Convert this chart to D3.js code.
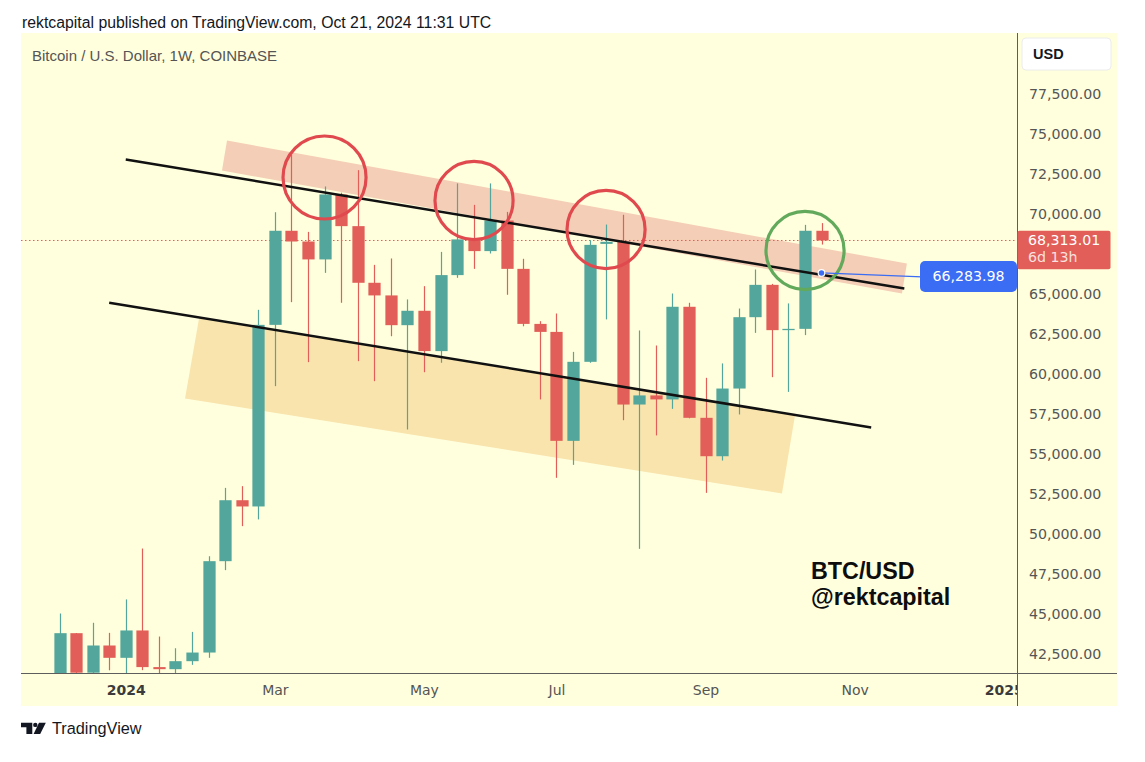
<!DOCTYPE html>
<html>
<head>
<meta charset="utf-8">
<script src="https://cdn.jsdelivr.net/npm/d3@7"></script>
<style>
  body { margin: 0; background: #ffffff; }
  svg { display: block; }
</style>
</head>
<body>
<svg id="chart" width="1145" height="762"></svg>
<script>
// ---------------- DATA ----------------
const weeks = [
  "2023-12-04","2023-12-11","2023-12-18","2023-12-25","2024-01-01","2024-01-08","2024-01-15","2024-01-22",
  "2024-01-29","2024-02-05","2024-02-12","2024-02-19","2024-02-26","2024-03-04","2024-03-11","2024-03-18",
  "2024-03-25","2024-04-01","2024-04-08","2024-04-15","2024-04-22","2024-04-29","2024-05-06","2024-05-13",
  "2024-05-20","2024-05-27","2024-06-03","2024-06-10","2024-06-17","2024-06-24","2024-07-01","2024-07-08",
  "2024-07-15","2024-07-22","2024-07-29","2024-08-05","2024-08-12","2024-08-19","2024-08-26","2024-09-02",
  "2024-09-09","2024-09-16","2024-09-23","2024-09-30","2024-10-07","2024-10-14","2024-10-21"
];
const opens = [
  39970, 43770, 41300, 43000, 42230, 43940, 41650, 41520,
  42020, 42560, 48270, 52080, 51690, 63040, 68920, 68250,
  67130, 71190, 69210, 65670, 64880, 63020, 63920, 61400,
  66150, 68380, 67650, 69560, 66540, 63100, 62600, 55790,
  60730, 68100, 68230, 58060, 58630, 58380, 64170, 57230,
  54830, 59060, 63520, 65540, 62710, 62790, 68920
];
const highs = [
  45000, 43780, 44420, 43790, 45880, 49060, 43560, 42830,
  43850, 48580, 52850, 52960, 63980, 70080, 73690, 68850,
  71690, 71300, 72710, 66790, 67190, 64630, 65460, 67600,
  71880, 70540, 71880, 70100, 67170, 63270, 63750, 61350,
  68330, 69310, 69920, 62690, 61750, 65000, 64420, 59730,
  60630, 64060, 66500, 65600, 64380, 69290, 69400
];
const lows = [
  39500, 40200, 40550, 41450, 40750, 41460, 40500, 38500,
  41790, 42230, 47710, 50460, 50880, 59210, 64460, 60710,
  66290, 64420, 60770, 59520, 62330, 56500, 60080, 60670,
  65980, 66540, 67500, 64920, 62950, 58380, 53480, 54290,
  60670, 63380, 57080, 49040, 56130, 57790, 57200, 52540,
  54560, 57440, 62540, 59770, 58850, 62400, 68060
];
const closes = [
  43770, 41300, 43000, 42230, 43940, 41650, 41520, 42020,
  42560, 48270, 52080, 51690, 63040, 68920, 68250, 67130,
  71190, 69210, 65670, 64880, 63020, 63920, 61400, 66150,
  68380, 67650, 69560, 66540, 63100, 62600, 55790, 60730,
  68040, 68230, 58060, 58630, 58380, 64170, 57230, 54830,
  59060, 63520, 65540, 62710, 62790, 68920, 68313.01
];

// 67,500 is hidden behind the last-price label in the reference
const priceTicks = [42500, 45000, 47500, 50000, 52500, 55000, 57500, 60000,
                    62500, 65000, 70000, 72500, 75000, 77500];
const timeTicks  = ["2024-01-01","2024-03-04","2024-05-06","2024-07-01","2024-09-02","2024-11-04","2025-01-06"];
const timeLabels = ["2024","Mar","May","Jul","Sep","Nov","2025"];
const yearTicks  = ["2024","2025"];

const lastPrice = 68313.01;
const countdown = "6d 13h";
const markDate = "2024-10-21";
const markPrice = 66283.98;

// drawings (anchored in time / price)
const upperLine = [["2024-01-01T00:00", 73375], ["2024-11-25T00:00", 65312]];
const lowerLine = [["2023-12-25T00:00", 64425], ["2024-11-11T00:00", 56630]];
const resistanceBand = [["2024-02-12T19:00", 74562], ["2024-11-26T02:00", 66875],
                        ["2024-11-24T00:00", 65000], ["2024-02-10T16:00", 72687]];
const supportBand = [["2024-01-31T23:00", 63437], ["2024-10-09T19:00", 57375],
                     ["2024-10-04T07:00", 52500], ["2024-01-26T01:00", 58437]];
const redCircles = [
  {c: ["2024-03-25T00:00", 72250], edge: "2024-04-11T13:00"},
  {c: ["2024-05-27T04:00", 70812], edge: "2024-06-12T16:00"},
  {c: ["2024-07-21T23:00", 69000], edge: "2024-08-07T11:00"}
];
const greenCircles = [
  {c: ["2024-10-14T01:00", 67687], edge: "2024-10-30T13:00"}
];

const headerText = "rektcapital published on TradingView.com, Oct 21, 2024 11:31 UTC";
const titleText = "Bitcoin / U.S. Dollar, 1W, COINBASE";
const watermark = ["BTC/USD", "@rektcapital"];

// ---------------- LAYOUT ----------------
const W = 1145, H = 762;
const pane = {l: 21, t: 33, r: 1117, b: 706};
const axisX = 1017, axisY = 673;

const UP = "#53a69b", DOWN = "#e15f58";
const parseDay = d3.utcParse("%Y-%m-%d");
const parseT = d3.utcParse("%Y-%m-%dT%H:%M");
const pd = s => s.length > 10 ? parseT(s) : parseDay(s);

const svg = d3.select("#chart");

const x = d3.scaleUtc()
  .domain([pd(weeks[0]), pd(weeks[weeks.length - 1])])
  .range([59.5, 821.5]);
const y = d3.scaleLinear().domain([42500, 77500]).range([653.5, 93.5]);

const barStep = x(pd(weeks[1])) - x(pd(weeks[0]));
const bodyW = barStep * 0.74;

// Header
svg.append("text").attr("x", 22).attr("y", 28)
  .attr("font-family", "'Liberation Sans', Arial, sans-serif").attr("font-size", 15.8)
  .attr("fill", "#131722").text(headerText);

// Pane background
svg.append("rect").attr("x", pane.l).attr("y", pane.t)
  .attr("width", pane.r - pane.l).attr("height", pane.b - pane.t)
  .attr("fill", "#ffffdd");

svg.append("defs").append("clipPath").attr("id", "plotClip")
  .append("rect").attr("x", pane.l).attr("y", pane.t)
  .attr("width", axisX - pane.l).attr("height", axisY - pane.t);

const plot = svg.append("g").attr("clip-path", "url(#plotClip)");

// Title
plot.append("text").attr("x", 32).attr("y", 61)
  .attr("font-family", "'Liberation Sans', Arial, sans-serif").attr("font-size", 15)
  .attr("fill", "#555555").text(titleText);

const pt = p => [x(pd(p[0])), y(p[1])];

// Bands
plot.append("path")
  .attr("d", d3.line()(resistanceBand.map(pt)) + "Z")
  .attr("fill", "#f4ceb6");
plot.append("path")
  .attr("d", d3.line()(supportBand.map(pt)) + "Z")
  .attr("fill", "#f9e4ad");

// Last price dotted line
plot.append("line")
  .attr("x1", pane.l).attr("x2", axisX)
  .attr("y1", y(lastPrice)).attr("y2", y(lastPrice))
  .attr("stroke", DOWN).attr("stroke-width", 1).attr("stroke-dasharray", "1.5 2.5");

// Candles
const candles = weeks.map((w, i) => ({
  d: pd(w), o: opens[i], h: highs[i], l: lows[i], c: closes[i]
}));
const cg = plot.append("g");
cg.selectAll("line.wick").data(candles).join("line")
  .attr("class", "wick")
  .attr("x1", d => Math.round(x(d.d)) + 0.5).attr("x2", d => Math.round(x(d.d)) + 0.5)
  .attr("y1", d => y(d.h)).attr("y2", d => y(d.l))
  .attr("stroke", d => d.c >= d.o ? UP : DOWN).attr("stroke-width", 1.2);
cg.selectAll("rect.body").data(candles).join("rect")
  .attr("class", "body")
  .attr("x", d => Math.round(x(d.d)) + 0.5 - bodyW / 2)
  .attr("width", bodyW)
  .attr("y", d => y(Math.max(d.o, d.c)))
  .attr("height", d => Math.max(1.2, Math.abs(y(d.o) - y(d.c))))
  .attr("fill", d => d.c >= d.o ? UP : DOWN);

// Trend lines
[upperLine, lowerLine].forEach(L => {
  plot.append("path").attr("d", d3.line()(L.map(pt)))
    .attr("stroke", "#111111").attr("stroke-width", 2.5).attr("fill", "none");
});

// Circles
function drawCircle(cObj, color) {
  const [cx, cy] = pt(cObj.c);
  const r = x(pd(cObj.edge)) - cx;
  plot.append("circle").attr("cx", cx).attr("cy", cy).attr("r", r)
    .attr("fill", "none").attr("stroke", color).attr("stroke-width", 3.2);
}
redCircles.forEach(c => drawCircle(c, "#e04a4f"));
greenCircles.forEach(c => drawCircle(c, "#62a95c"));

// Price mark (blue)
const mx = x(pd(markDate)), my = y(markPrice);
const blueX = 920, blueW = 97, blueH = 31;
plot.append("line").attr("x1", mx).attr("y1", my).attr("x2", blueX + 2).attr("y2", my + 4)
  .attr("stroke", "#3a6cf4").attr("stroke-width", 1.2);
plot.append("circle").attr("cx", mx).attr("cy", my).attr("r", 3.3)
  .attr("fill", "#3a6cf4").attr("stroke", "#ffffff").attr("stroke-width", 1.2);

// Watermark
const wm = plot.append("g").attr("font-family", "'Liberation Sans', Arial, sans-serif")
  .attr("font-weight", "bold").attr("font-size", 23.3).attr("fill", "#0d0d0d");
wm.append("text").attr("x", 811).attr("y", 578.5).text(watermark[0]);
wm.append("text").attr("x", 811).attr("y", 605).text(watermark[1]);

// Axes separator lines
svg.append("line").attr("x1", axisX + 0.5).attr("x2", axisX + 0.5).attr("y1", pane.t).attr("y2", pane.b)
  .attr("stroke", "#5d5d5d").attr("stroke-width", 1);
svg.append("line").attr("x1", pane.l).attr("x2", pane.r).attr("y1", axisY + 0.5).attr("y2", axisY + 0.5)
  .attr("stroke", "#5d5d5d").attr("stroke-width", 1);

// Right price axis
const yAxis = d3.axisRight(y).tickValues(priceTicks).tickSize(0).tickPadding(0)
  .tickFormat(d3.format(",.2f"));
const yg = svg.append("g").attr("transform", `translate(1029,0)`).call(yAxis);
yg.select(".domain").remove();
yg.selectAll("text").attr("font-family", "'DejaVu Sans', sans-serif").attr("font-size", 14.2)
  .attr("fill", "#555555").attr("x", 0).attr("dy", "0.35em");

// Blue label (drawn over the axis edge)
svg.append("rect").attr("x", blueX).attr("y", my - 12).attr("width", blueW).attr("height", blueH)
  .attr("rx", 5).attr("fill", "#3a6cf4");
svg.append("text").attr("x", blueX + blueW / 2).attr("y", my + 3.5).attr("dy", "0.35em")
  .attr("text-anchor", "middle").attr("font-family", "'DejaVu Sans', sans-serif")
  .attr("font-size", 14.2).attr("fill", "#ffffff").text(d3.format(",.2f")(markPrice));

// Last price label
const ly = y(lastPrice);
svg.append("rect").attr("x", axisX + 0.5).attr("y", ly - 9.8).attr("width", 93).attr("height", 38.5)
  .attr("rx", 2).attr("fill", DOWN);
svg.append("text").attr("x", 1028).attr("y", ly).attr("dy", "0.35em")
  .attr("font-family", "'DejaVu Sans', sans-serif").attr("font-size", 14.2)
  .attr("fill", "#ffffff").text(d3.format(",.2f")(lastPrice));
svg.append("text").attr("x", 1028).attr("y", ly + 17).attr("dy", "0.35em")
  .attr("font-family", "'DejaVu Sans', sans-serif").attr("font-size", 14.2)
  .attr("fill", "#ffffff").attr("fill-opacity", 0.82).text(countdown);

// USD box
svg.append("rect").attr("x", 1022).attr("y", 38).attr("width", 89).attr("height", 32)
  .attr("rx", 4).attr("fill", "#ffffff").attr("stroke", "#ececec");
svg.append("text").attr("x", 1033).attr("y", 54).attr("dy", "0.35em")
  .attr("font-family", "'Liberation Sans', Arial, sans-serif").attr("font-size", 14.5)
  .attr("font-weight", "bold").attr("fill", "#131722").text("USD");

// Bottom time axis
const xAxis = d3.axisBottom(x).tickValues(timeTicks.map(pd)).tickSize(0).tickPadding(0)
  .tickFormat((d, i) => timeLabels[i]);
svg.append("defs").append("clipPath").attr("id", "xClip")
  .append("rect").attr("x", pane.l).attr("y", axisY).attr("width", axisX - pane.l).attr("height", pane.b - axisY);
const xg = svg.append("g").attr("clip-path", "url(#xClip)")
  .append("g").attr("transform", `translate(0,${axisY})`).call(xAxis);
xg.select(".domain").remove();
xg.selectAll("text")
  .attr("font-family", "'DejaVu Sans', sans-serif").attr("font-size", 14)
  .attr("y", 17).attr("dy", "0.35em")
  .attr("font-weight", (d, i) => yearTicks.includes(timeLabels[i]) ? "bold" : "normal")
  .attr("fill", (d, i) => yearTicks.includes(timeLabels[i]) ? "#3b3b3b" : "#555555");

// TradingView logo
const logo = svg.append("g").attr("fill", "#131722");
logo.append("path").attr("d", "M21,722.7 H32.3 V734 H26.4 V727.2 H21 Z");
logo.append("circle").attr("cx", 35.3).attr("cy", 724.9).attr("r", 2.2);
logo.append("path").attr("d", "M39,722.7 H45.8 L40.2,734 H33.6 Z");
svg.append("text").attr("x", 52).attr("y", 734.2)
  .attr("font-family", "'Liberation Sans', Arial, sans-serif").attr("font-size", 16.3)
  .attr("fill", "#131722").text("TradingView");
</script>
</body>
</html>
